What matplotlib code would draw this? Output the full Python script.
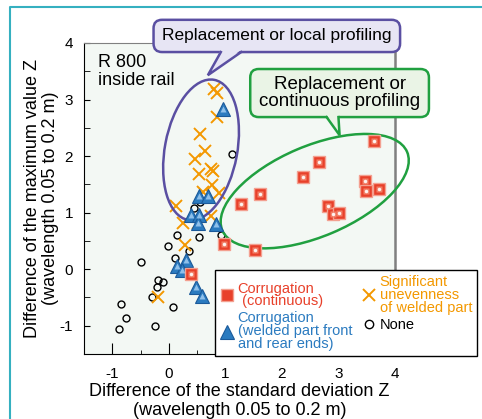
import matplotlib
matplotlib.use("Agg")
import matplotlib.pyplot as plt
from matplotlib.lines import Line2D
from matplotlib.patches import Ellipse, FancyBboxPatch, Polygon

plt.rcParams["font.family"] = ["Liberation Sans", "DejaVu Sans"]
plt.rcParams["axes.unicode_minus"] = False

RED = "#e8402a"
BLUE = "#2b7bc0"
ORANGE = "#f39800"
PURPLE = "#5a4fa2"
GREEN = "#20a040"

# corrugation (continuous)
cont_x = [3.63, 2.65, 2.37, 1.62, 1.27, 3.47, 3.49, 3.71, 2.81, 2.91, 3.01, 0.97, 1.52, 0.39]
cont_y = [2.27, 1.90, 1.63, 1.33, 1.16, 1.56, 1.39, 1.42, 1.12, 0.97, 1.00, 0.44, 0.34, -0.08]

# corrugation (welded part front and rear ends)
weld_x = [0.95, 0.54, 0.69, 0.39, 0.54, 0.52, 0.83, 0.30, 0.14, 0.23, 0.48, 0.59]
weld_y = [2.84, 1.29, 1.30, 0.96, 0.96, 0.81, 0.80, 0.16, 0.05, -0.01, -0.31, -0.48]

# significant unevenness of welded part
unev_x = [0.80, 0.85, 0.85, 0.56, 0.64, 0.46, 0.53, 0.75, 0.79, 0.77, 0.60, 0.88,
          0.12, 0.25, 0.51, 0.75, 0.28, -0.20]
unev_y = [3.18, 3.12, 2.70, 2.39, 2.09, 1.94, 1.68, 1.78, 1.73, 1.49, 1.37, 1.34,
          1.11, 0.82, 0.82, 0.94, 0.42, -0.49]

# none
none_x = [0.44, 0.56, 1.12, 0.92, 0.14, 0.53, -0.02, 0.35, 0.11, -0.49, -0.20, -0.11,
          -0.21, -0.29, 0.07, -0.85, -0.75, -0.88, -0.24]
none_y = [1.09, 1.18, 2.04, 0.60, 0.61, 0.57, 0.41, 0.32, 0.20, 0.13, -0.19, -0.22,
          -0.32, -0.50, -0.66, -0.62, -0.86, -1.06, -1.01]

labels = ["Corrugation\n (continuous)",
          "Corrugation\n(welded part front\nand rear ends)",
          "Significant\nunevenness\nof welded part",
          "None"]


def callout(ax, x0, x1, y0, y1, base0, base1, tip, text, face, edge, size):
    box = FancyBboxPatch((x0, y0), x1 - x0, y1 - y0,
                         boxstyle="round,pad=0,rounding_size=0.15",
                         facecolor=face, edgecolor=edge, linewidth=1.8,
                         clip_on=False, zorder=6)
    ax.add_patch(box)
    ax.add_patch(Polygon([(base0, y0 + 0.04), (base1, y0 + 0.04), tip],
                         closed=True, facecolor=face, edgecolor="none",
                         clip_on=False, zorder=6.1))
    ax.plot([base0, tip[0], base1], [y0, tip[1], y0], color=edge, lw=1.8,
            clip_on=False, zorder=6.2, solid_joinstyle="miter")
    ax.text((x0 + x1) / 2, (y0 + y1) / 2, text, ha="center", va="center",
            fontsize=size, linespacing=1.0, zorder=7)


fig = plt.figure(figsize=(4.82, 4.19), dpi=100)
ax = fig.add_axes([84 / 482, 1 - 354 / 419, 311 / 482, 311 / 419])
ax.set_facecolor("#f3f8f4")

ax.set_xlim(-1.5, 4.0)
ax.set_ylim(-1.5, 4.0)
ax.set_xticks([-1, 0, 1, 2, 3, 4])
ax.set_xticks([-1.5, -0.5, 0.5, 1.5, 2.5, 3.5], minor=True)
ax.set_yticks([-1, 0, 1, 2, 3, 4])
ax.set_yticks([-0.5, 0.5, 1.5, 2.5, 3.5], minor=True)
ax.tick_params(axis="x", which="major", direction="in", length=8, labelsize=11, pad=9)
ax.tick_params(axis="x", which="minor", direction="in", length=3)
ax.tick_params(axis="y", which="both", direction="in", length=4.5, labelsize=11, pad=8)
for side in ["top", "right"]:
    ax.spines[side].set_color("#808080")
ax.spines["right"].set_linewidth(1.8)

ax.set_xlabel("Difference of the standard deviation Z\n(wavelength 0.05 to 0.2 m)",
              fontsize=13, linespacing=1.1, labelpad=2)
ax.set_ylabel("Difference of the maximum value Z\n(wavelength 0.05 to 0.2 m)",
              fontsize=13, linespacing=1.1, labelpad=0)

# markers
ax.plot(none_x, none_y, "o", ms=5, mfc="none", mec="black", mew=1.0, zorder=3)
ax.plot(unev_x, unev_y, "x", ms=8, color=ORANGE, mew=1.4, zorder=3)
ax.plot(weld_x, weld_y, "^", ms=10, mfc=BLUE, mec="#1b5a9a", mew=0.8, zorder=4)
ax.plot(weld_x, weld_y, "^", ms=5, mfc="#8fc0ea", mec="none", zorder=4)
ax.plot(cont_x, cont_y, "s", ms=9, mfc=RED, mec="#f3a090", mew=1.0, zorder=4)
ax.plot(cont_x, cont_y, "s", ms=5, mfc="#f28068", mec="none", zorder=4)
ax.plot(cont_x, cont_y, "o", ms=2.5, mfc="white", mec="none", alpha=0.9, zorder=4)

# ellipses
ax.add_patch(Ellipse((0.57, 2.11), 1.28, 2.52, angle=-10.6, fill=False,
                     edgecolor=PURPLE, lw=1.8, zorder=3, clip_on=False))
ax.add_patch(Ellipse((2.58, 1.38), 3.55, 1.60, angle=23, fill=False,
                     edgecolor=GREEN, lw=1.8, zorder=3, clip_on=False))

ax.text(-1.26, 3.80, "R 800\ninside rail", ha="left", va="top", fontsize=13,
        linespacing=1.05, zorder=5)

callout(ax, -0.27, 4.09, 3.84, 4.41, 0.92, 1.28, (0.69, 3.43),
        "Replacement or local profiling", "#e7e5f4", PURPLE, 12.5)
callout(ax, 1.44, 4.60, 2.69, 3.54, 2.79, 3.00, (3.02, 2.37),
        "Replacement or\ncontinuous profiling", "#eaf4e6", GREEN, 13.5)

handles = [
    Line2D([], [], ls="none", marker="s", ms=9, mfc=RED, mec="#f3a090"),
    Line2D([], [], ls="none", marker="^", ms=10, mfc=BLUE, mec="#1b5a9a", mew=0.8),
    Line2D([], [], ls="none", marker="x", ms=9, color=ORANGE, mew=1.4),
    Line2D([], [], ls="none", marker="o", ms=6, mfc="none", mec="black"),
]
leg = fig.legend(handles, labels, ncol=2, loc="upper left",
                 bbox_to_anchor=(215 / 482, 1 - 270 / 419), borderaxespad=0,
                 fontsize=10.5, frameon=True, fancybox=False, framealpha=1,
                 edgecolor="black", handlelength=0.9, handletextpad=0.3,
                 columnspacing=0.7, labelspacing=0.2, borderpad=0.35,
                 labelcolor=[RED, BLUE, ORANGE, "black"])
leg.get_frame().set_linewidth(1.0)
for t in leg.get_texts():
    t.set_linespacing(0.9)

# teal frame around the figure
fig.add_artist(Line2D([10 / 482, 10 / 482, 1], [0, 1 - 7 / 419, 1 - 7 / 419],
                      transform=fig.transFigure, color="#35b0c0", lw=1.5))

fig.savefig("out.png", dpi=100)
